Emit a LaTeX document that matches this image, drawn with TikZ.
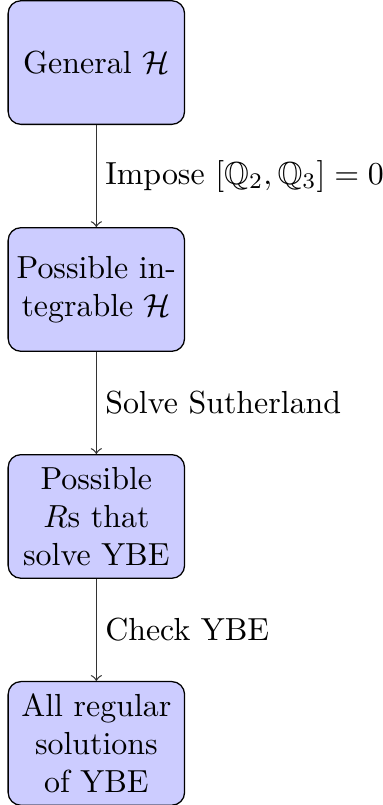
\documentclass[tikz,border=0pt]{standalone}
\usepackage{amsmath,amssymb}
\begin{document}
\begin{tikzpicture}[
  stagebox/.style={draw=black, fill=blue!20, rounded corners, text width=1.7cm, align=center, minimum width=55.3pt, minimum height=38.75pt, inner sep=0.3333em},
  widetext/.style={text width=1.9cm, inner xsep=0pt},
  flowarrow/.style={->, draw=black!80},
  edgelabel/.style={right, midway, inner xsep=2.6pt}
]
\useasboundingbox (-30.2pt,19.6pt) rectangle (89.8pt,-232.7pt);
\node[stagebox] (a) at (0,0) {General $\mathcal{H}$};
\node[stagebox, widetext] (b) at (0,-2.5cm) {Possible in-\\tegrable $\mathcal{H}$};
\node[stagebox] (c) at (0,-5cm) {Possible $R$s that solve YBE};
\node[stagebox] (d) at (0,-7.5cm) {All regular solutions of YBE};
\draw[flowarrow] (a) -- node[edgelabel] {Impose $[\mathbb{Q}_2,\mathbb{Q}_3]=0$} (b);
\draw[flowarrow] (b) -- node[edgelabel] {Solve Sutherland} (c);
\draw[flowarrow] (c) -- node[edgelabel] {Check YBE} (d);
\end{tikzpicture}
\end{document}
